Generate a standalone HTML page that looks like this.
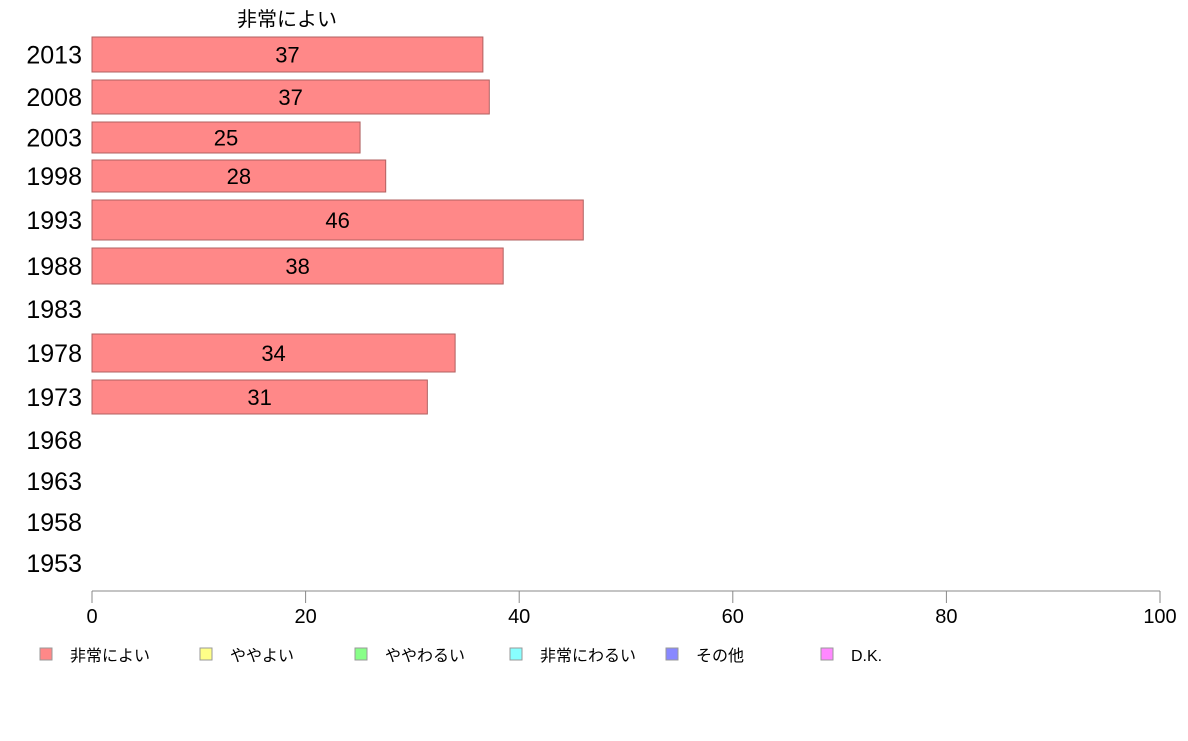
<!DOCTYPE html>
<html><head><meta charset="utf-8"><style>
body{margin:0;background:#fff;width:1188px;height:736px;overflow:hidden}
svg text{font-family:"Liberation Sans","Noto Sans CJK JP",sans-serif}
</style></head><body>
<svg id="c" width="1188" height="736"></svg>
<script>
const years=["2013","2008","2003","1998","1993","1988","1983","1978","1973","1968","1963","1958","1953"];
const values=[36.6,37.2,25.1,27.5,46.0,38.5,null,34.0,31.4,null,null,null,null];
const labels=["37","37","25","28","46","38","","34","31","","","",""];
const ticks=[0,20,40,60,80,100];
const legendNames=["非常によい","ややよい","ややわるい","非常にわるい","その他","D.K."];
const legendColors=["#ff8888","#ffff88","#88ff88","#88ffff","#8888ff","#ff88ff"];
const rowTop=[37,80,122,160,200,248,292,334,380,423,464,505,546];
const rowH=[35,34,31,32,40,36,34,38,34,34,34,34,34];
const NS="http://www.w3.org/2000/svg";
const svg=document.getElementById('c');
const x=v=>92+v*10.68;
function el(t,a,txt){const e=document.createElementNS(NS,t);for(const k in a)e.setAttribute(k,a[k]);if(txt!=null)e.textContent=txt;svg.appendChild(e);return e;}
let t=el('text',{x:287,y:26,'font-size':20,'text-anchor':'middle',fill:'#000'},'非常によい');


years.forEach((y,i)=>{
  const cy=rowTop[i]+rowH[i]/2;
  let l=el('text',{x:82,y:cy+9,'font-size':25,'text-anchor':'end',fill:'#000'},y);
  
  
  if(values[i]!=null){
    let r=el('rect',{x:x(0),y:rowTop[i],width:x(values[i])-x(0),height:rowH[i],fill:'#ff8888',stroke:'#b06060','stroke-width':1});
    
    
    let v=el('text',{x:(x(0)+x(values[i]))/2,y:cy+8,'font-size':22,'text-anchor':'middle',fill:'#000'},labels[i]);
    
    
  }
});
let ax=el('line',{x1:x(0),x2:x(100),y1:591,y2:591,stroke:'#888','stroke-width':1});


ticks.forEach(v=>{
  let tk=el('line',{x1:x(v),x2:x(v),y1:591,y2:603,stroke:'#888','stroke-width':1});
  
  
  let tl=el('text',{x:x(v),y:623,'font-size':20,'text-anchor':'middle',fill:'#000'},String(v));
  
  
});
const legX=[35,195,350,505,661,816];
legendNames.forEach((n,i)=>{
  let s=el('rect',{x:legX[i]+5,y:648,width:12,height:12,fill:legendColors[i],stroke:'#999','stroke-width':1});
  
  
  let lt=el('text',{x:legX[i]+35,y:661,'font-size':16,fill:'#000'},n);
  
  
});
</script>
</body></html>
